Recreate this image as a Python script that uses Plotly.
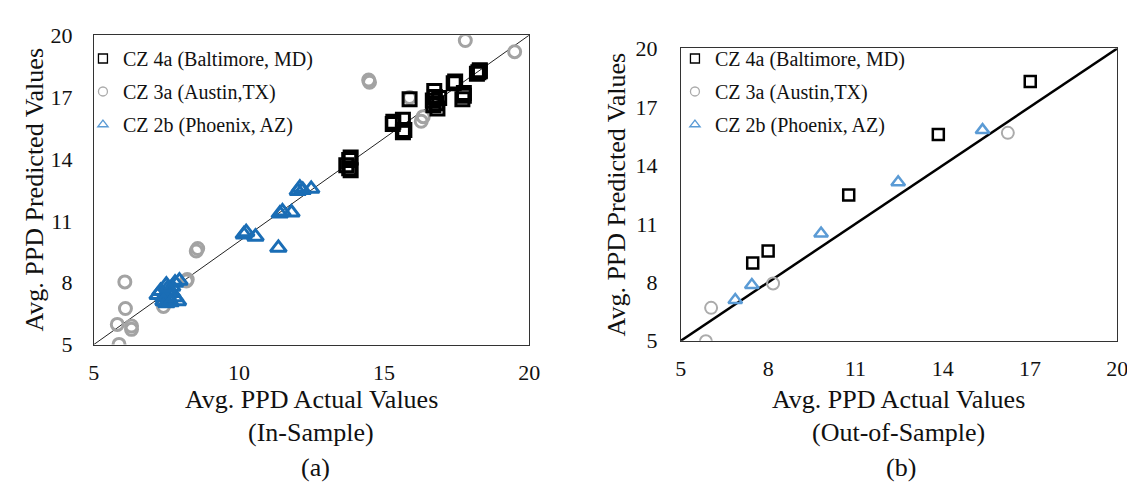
import plotly.graph_objects as go

# ---------------- data ----------------
# (a) In-sample
a_balt_x = [18.2, 18.3, 18.25, 18.3, 17.4, 17.45, 17.75, 17.7, 17.75, 16.73, 16.68, 16.84, 16.75, 16.8, 16.9,
            16.7, 15.88, 15.32, 15.3, 15.65, 15.65, 15.7, 13.85, 13.8, 13.7, 13.85, 13.8]
a_balt_y = [18.13, 18.25, 18.2, 18.3, 17.67, 17.75, 17.06, 16.9, 17.2, 17.29, 16.83, 16.44, 17.0, 16.7, 16.95,
            16.6, 16.9, 15.8, 15.7, 15.9, 15.29, 15.4, 14.07, 13.95, 13.7, 13.45, 13.55]

a_aus_x = [17.8, 19.5, 14.47, 14.5, 15.88, 16.28, 16.35, 8.53, 8.58, 8.19, 8.22, 6.07, 6.09, 5.81, 6.3, 6.3, 5.87, 7.4]
a_aus_y = [19.74, 19.2, 17.83, 17.72, 16.98, 15.83, 16.05, 9.54, 9.66, 8.08, 8.15, 8.04, 6.75, 5.98, 5.74, 5.9, 5.01, 6.85]

a_phx_x = [12.03, 12.2, 12.49, 12.1, 11.41, 11.81, 11.5, 10.17, 10.57, 10.25, 11.36,
           7.3, 7.4, 7.5, 7.6, 7.7, 7.8, 7.9, 7.5, 7.2, 7.7, 7.95, 7.6, 7.4, 7.8, 7.55, 7.65]
a_phx_y = [12.45, 12.5, 12.55, 12.6, 11.35, 11.4, 11.45, 10.34, 10.23, 10.45, 9.69,
           7.6, 7.3, 7.9, 7.2, 7.5, 8.0, 7.1, 7.0, 7.4, 7.8, 8.1, 7.6, 7.1, 7.3, 7.75, 7.05]

# (b) Out-of-sample
b_balt_x = [17.01, 13.85, 10.77, 8.0, 7.47]
b_balt_y = [18.30, 15.58, 12.48, 9.61, 8.99]

b_aus_x = [16.24, 8.17, 6.04, 5.86]
b_aus_y = [15.67, 7.94, 6.69, 4.98]

b_phx_x = [15.37, 12.47, 9.82, 7.44, 6.87]
b_phx_y = [15.81, 13.13, 10.5, 7.86, 7.09]

axis_min, axis_max = 5, 20
a_xticks = [5, 10, 15, 20]
b_xticks = [5, 8, 11, 14, 17, 20]
yticks = [5, 8, 11, 14, 17, 20]

names = ["CZ 4a (Baltimore, MD)", "CZ 3a (Austin,TX)", "CZ 2b (Phoenix, AZ)"]

FONT = "Liberation Serif, Times New Roman, serif"
BLACK = "#000000"
GRAY_A = "#A3A3A3"
GRAY_B = "#ABABAB"
BLUE_A = "#1A6DB5"
BLUE_B = "#5B9BD5"

W, H = 1135, 491
fig = go.Figure()

def px_to_dom(x0, x1):
    return [x0 / W, x1 / W]

def py_to_dom(top, bottom):
    return [1 - bottom / H, 1 - top / H]

# diagonal lines
fig.add_trace(go.Scatter(x=[axis_min, axis_max], y=[axis_min, axis_max], mode="lines",
                         line=dict(color="#222222", width=1), xaxis="x", yaxis="y",
                         showlegend=False, hoverinfo="skip"))
fig.add_trace(go.Scatter(x=[axis_min, axis_max], y=[axis_min, axis_max], mode="lines",
                         line=dict(color="#000000", width=2.5), xaxis="x2", yaxis="y2",
                         showlegend=False, hoverinfo="skip"))

# panel (a)
fig.add_trace(go.Scatter(x=a_aus_x, y=a_aus_y, mode="markers", xaxis="x", yaxis="y", showlegend=False,
                         marker=dict(symbol="circle-open", size=12, color=GRAY_A, line=dict(width=3, color=GRAY_A))))
fig.add_trace(go.Scatter(x=a_balt_x, y=a_balt_y, mode="markers", xaxis="x", yaxis="y", showlegend=False,
                         marker=dict(symbol="square-open", size=13, color=BLACK, line=dict(width=3, color=BLACK))))
fig.add_trace(go.Scatter(x=a_phx_x, y=a_phx_y, mode="markers", xaxis="x", yaxis="y", showlegend=False,
                         marker=dict(symbol="triangle-up-open", size=14, color=BLUE_A, line=dict(width=3, color=BLUE_A))))

# panel (b)
fig.add_trace(go.Scatter(x=b_aus_x, y=b_aus_y, mode="markers", xaxis="x2", yaxis="y2", showlegend=False,
                         marker=dict(symbol="circle-open", size=12, color=GRAY_B, line=dict(width=2, color=GRAY_B))))
fig.add_trace(go.Scatter(x=b_balt_x, y=b_balt_y, mode="markers", xaxis="x2", yaxis="y2", showlegend=False,
                         marker=dict(symbol="square-open", size=11, color=BLACK, line=dict(width=2.5, color=BLACK))))
fig.add_trace(go.Scatter(x=b_phx_x, y=b_phx_y, mode="markers", xaxis="x2", yaxis="y2", showlegend=False,
                         marker=dict(symbol="triangle-up-open", size=12, color=BLUE_B, line=dict(width=2.5, color=BLUE_B))))

# legend entries (small symbols, as in the reference)
leg_styles = [("square-open", BLACK, 9), ("circle-open", GRAY_B, 9), ("triangle-up-open", BLUE_B, 9)]
for leg, xa, ya in [("legend", "x", "y"), ("legend2", "x2", "y2")]:
    for i, (nm, (sym, col, sz)) in enumerate(zip(names, leg_styles)):
        fig.add_trace(go.Scatter(x=[None], y=[None], mode="markers", name=nm, xaxis=xa, yaxis=ya,
                                 legend=leg, legendgroup=f"{leg}{i}", showlegend=True,
                                 marker=dict(symbol=sym, size=sz, color=col, line=dict(width=1.3, color=col))))

axis_common = dict(range=[axis_min, axis_max], showgrid=False, zeroline=False, showline=True,
                   linecolor="#333333", linewidth=1, mirror=True, ticks="",
                   tickfont=dict(family=FONT, size=22, color="#111111"))

fig.update_layout(
    width=W, height=H, margin=dict(l=0, r=0, t=0, b=0),
    paper_bgcolor="white", plot_bgcolor="white",
    font=dict(family=FONT, color="#111111"),
    xaxis=dict(axis_common, domain=px_to_dom(81, 523), tickvals=a_xticks, anchor="y", ticklabelstandoff=8),
    yaxis=dict(axis_common, domain=py_to_dom(16, 342), tickvals=yticks, anchor="x", ticklabelstandoff=16),
    xaxis2=dict(axis_common, domain=px_to_dom(677, 1120), tickvals=b_xticks, anchor="y2", ticklabelstandoff=8),
    yaxis2=dict(axis_common, domain=py_to_dom(30, 338), tickvals=yticks, anchor="x2", ticklabelstandoff=18),
    legend=dict(x=70 / W, y=1 - 20 / H, xanchor="left", yanchor="top", bgcolor="rgba(0,0,0,0)",
                font=dict(family=FONT, size=20, color="#111111"), tracegroupgap=4, itemwidth=30),
    legend2=dict(x=671 / W, y=1 - 20 / H, xanchor="left", yanchor="top", bgcolor="rgba(0,0,0,0)",
                 font=dict(family=FONT, size=20, color="#111111"), tracegroupgap=4, itemwidth=30),
)

tfont = dict(family=FONT, size=26, color="#111111")
ann = [
    dict(text="Avg. PPD Predicted Values", x=21, y=179, textangle=-90),
    dict(text="Avg. PPD Predicted Values", x=612, y=184, textangle=-90),
    dict(text="Avg. PPD Actual Values", x=302, y=400, textangle=0),
    dict(text="(In-Sample)", x=302, y=435, textangle=0),
    dict(text="(a)", x=306, y=472, textangle=0),
    dict(text="Avg. PPD Actual Values", x=898, y=400, textangle=0),
    dict(text="(Out-of-Sample)", x=898, y=435, textangle=0),
    dict(text="(b)", x=900, y=472, textangle=0),
]
for a in ann:
    fig.add_annotation(text=a["text"], x=a["x"] / W, y=1 - a["y"] / H, xref="paper", yref="paper",
                       xanchor="center", yanchor="middle", textangle=a["textangle"], showarrow=False,
                       font=tfont)

fig.write_html("out.html")
